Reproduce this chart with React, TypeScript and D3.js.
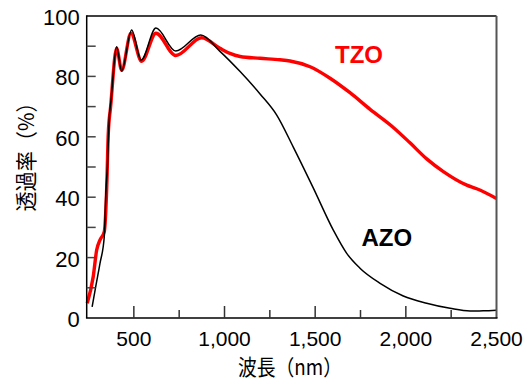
import React, { useEffect, useRef } from 'react';
import * as d3 from 'd3';

// wavelength (nm) / transmittance (%)
const azoWave = [270, 290, 313, 337, 346, 354, 365, 374, 405, 433, 488, 540, 622, 731, 869, 975, 1086, 1196, 1288, 1380, 1490, 1600, 1674, 1747, 1858, 1986, 2115, 2244, 2354, 2427, 2500];
const azoT = [3.7, 10.5, 18, 27, 42, 50, 66.7, 72, 89.8, 81.8, 95.4, 85.4, 96, 88.4, 93.7, 88.3, 81.6, 74.2, 67.2, 56.5, 43, 29.1, 21.4, 16.5, 11.5, 7.3, 4.9, 3.2, 2.3, 2.4, 2.6];

const tzoWave = [243, 276, 295, 313, 337, 350, 359, 372, 405, 433, 484, 543, 622, 731, 874, 975, 1030, 1086, 1196, 1306, 1361, 1472, 1582, 1692, 1803, 1931, 2023, 2115, 2207, 2336, 2391, 2500];
const tzoT = [4.9, 13.7, 22.5, 25.8, 28.6, 42.4, 61, 70, 89.3, 82, 94.3, 85, 94.3, 86.9, 92.8, 89.3, 87.6, 86.6, 86, 85.5, 85.1, 83.2, 79.4, 74.6, 69.1, 63.1, 58, 52.7, 48.5, 44, 42.8, 39.6];

const xMajor = [500, 1000, 1500, 2000, 2500];
const xMajorLabels = ['500', '1,000', '1,500', '2,000', '2,500'];
const xMinor = [750, 1250, 1750, 2250];
const yTicks = [0, 10, 20, 30, 40, 50, 60, 70, 80, 90, 100];
const yLabels = [0, 20, 40, 60, 80, 100];

const W = 532, H = 380;
const m = { left: 86.7, top: 16, right: 35.5, bottom: 62 };

const App = () => {
  const svgRef = useRef(null);

  useEffect(() => {
    const svg = d3.select(svgRef.current);
    svg.selectAll('*').remove();

    const x = d3.scaleLinear().domain([240, 2500]).range([m.left, W - m.right]);
    const y = d3.scaleLinear().domain([0, 100]).range([H - m.bottom, m.top]);
    const x0 = x.range()[0], x1 = x.range()[1];
    const y0 = y.range()[0], y1 = y.range()[1];
    const font = '"Liberation Sans", Arial, "Noto Sans CJK JP", sans-serif';
    const cjk = '"Noto Sans CJK JP", sans-serif';

    const line = d3.line().x(d => x(d[0])).y(d => y(d[1])).curve(d3.curveMonotoneX);
    const plot = svg.append('g');
    plot.append('path')
      .attr('d', line(tzoWave.map((w, i) => [w, tzoT[i]])))
      .attr('fill', 'none').attr('stroke', '#ff0000').attr('stroke-width', 3.4).attr('stroke-linejoin', 'round');
    plot.append('path')
      .attr('d', line(azoWave.map((w, i) => [w, azoT[i]])))
      .attr('fill', 'none').attr('stroke', '#000').attr('stroke-width', 1.5).attr('stroke-linejoin', 'round');

    // frame
    svg.append('line').attr('x1', x0).attr('x2', x1).attr('y1', y1).attr('y2', y1).attr('stroke', '#000').attr('stroke-width', 1.5);
    svg.append('line').attr('x1', x1).attr('x2', x1).attr('y1', y1).attr('y2', y0).attr('stroke', '#555').attr('stroke-width', 2);
    svg.append('line').attr('x1', x0).attr('x2', x0).attr('y1', y1 - 0.75).attr('y2', y0).attr('stroke', '#000').attr('stroke-width', 1.5);
    svg.append('line').attr('x1', x0 - 0.75).attr('x2', x1 + 1).attr('y1', y0).attr('y2', y0).attr('stroke', '#000').attr('stroke-width', 1.5);

    // ticks
    svg.selectAll('.yt').data(yTicks.filter(v => v > 0 && v < 100)).join('line')
      .attr('x1', x0).attr('x2', x0 + 9).attr('y1', d => y(d)).attr('y2', d => y(d))
      .attr('stroke', '#444').attr('stroke-width', 1.5);
    svg.selectAll('.xM').data(xMajor.filter(v => v < 2500)).join('line')
      .attr('x1', d => x(d)).attr('x2', d => x(d)).attr('y1', y0).attr('y2', y0 - 12)
      .attr('stroke', '#333').attr('stroke-width', 1.5);
    svg.selectAll('.xm').data(xMinor).join('line')
      .attr('x1', d => x(d)).attr('x2', d => x(d)).attr('y1', y0).attr('y2', y0 - 8)
      .attr('stroke', '#333').attr('stroke-width', 1.5);

    // tick labels
    svg.selectAll('.yl').data(yLabels).join('text')
      .attr('x', x0 - 7).attr('y', d => y(d) + 9).attr('text-anchor', 'end')
      .attr('font-family', font).attr('font-size', 22).attr('fill', '#000')
      .text(d => d);
    svg.selectAll('.xl').data(xMajor).join('text')
      .attr('x', d => x(d)).attr('y', 346).attr('text-anchor', 'middle')
      .attr('font-family', font).attr('font-size', 21).attr('fill', '#000')
      .text((d, i) => xMajorLabels[i]);

    // axis titles
    svg.append('text').attr('x', 290).attr('y', 375).attr('text-anchor', 'middle')
      .attr('font-family', cjk).attr('font-size', 21.5)
      .attr('textLength', 104).attr('lengthAdjust', 'spacingAndGlyphs').text('波長（nm）');
    svg.append('text').attr('transform', 'translate(34,152) rotate(-90)').attr('text-anchor', 'middle')
      .attr('font-family', cjk).attr('font-size', 22)
      .attr('textLength', 119).attr('lengthAdjust', 'spacingAndGlyphs').text('透過率（%）');

    // series labels
    svg.append('text').attr('x', 335).attr('y', 62.5)
      .attr('font-family', font).attr('font-weight', 'bold').attr('font-size', 24).attr('fill', '#ff0000').text('TZO');
    svg.append('text').attr('x', 361.5).attr('y', 245.5)
      .attr('font-family', font).attr('font-weight', 'bold').attr('font-size', 24).attr('fill', '#000').text('AZO');
  }, []);

  return (
    <svg ref={svgRef} width={W} height={H} style={{ position: 'absolute', left: 0, top: 0, background: '#fff' }}></svg>
  );
};

export default App;
